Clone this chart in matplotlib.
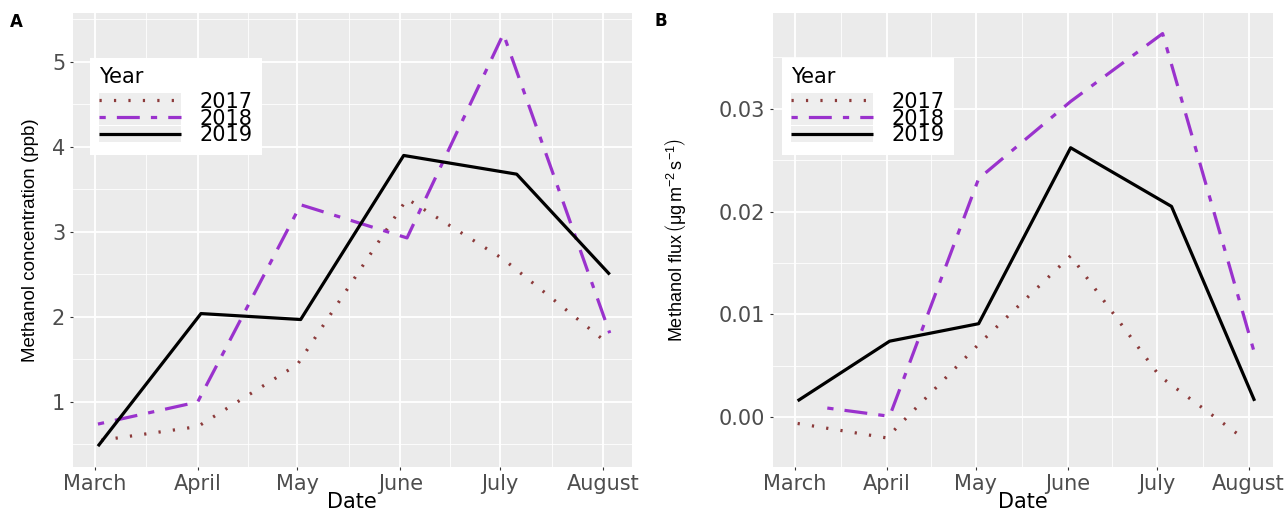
import matplotlib
matplotlib.use("Agg")
import matplotlib.pyplot as plt
import matplotlib.dates as mdates
import pandas as pd
from matplotlib.legend_handler import HandlerLine2D
from matplotlib.patches import Rectangle
from matplotlib.lines import Line2D
from matplotlib.ticker import FixedLocator

# ---------------- data ----------------
months = ["March", "April", "May", "June", "July", "August"]
month_starts = ["2019-03-01", "2019-04-01", "2019-05-01",
                "2019-06-01", "2019-07-01", "2019-08-01"]
years = ["2017", "2018", "2019"]

# Panel A: methanol concentration (ppb)
conc_dates_2017 = ["2019-03-03", "2019-04-01", "2019-05-01", "2019-06-03", "2019-07-02", "2019-08-03"]
conc_dates_2018 = ["2019-03-02", "2019-04-01", "2019-05-02", "2019-06-03", "2019-07-02", "2019-08-03"]
conc_dates_2019 = ["2019-03-02", "2019-04-02", "2019-05-02", "2019-06-02", "2019-07-06", "2019-08-03"]
conc_2017 = [0.55, 0.71, 1.44, 3.39, 2.68, 1.67]
conc_2018 = [0.74, 1.00, 3.32, 2.93, 5.33, 1.81]
conc_2019 = [0.48, 2.04, 1.97, 3.90, 3.68, 2.50]

# Panel B: methanol flux (ug m-2 s-1)
flux_dates_2017 = ["2019-03-02", "2019-04-01", "2019-05-02", "2019-06-02", "2019-07-02", "2019-07-31"]
flux_dates_2018 = ["2019-03-12", "2019-04-02", "2019-05-02", "2019-06-02", "2019-07-03", "2019-08-03"]
flux_dates_2019 = ["2019-03-02", "2019-04-02", "2019-05-02", "2019-06-02", "2019-07-06", "2019-08-03"]
flux_2017 = [-0.0006, -0.0020, 0.0071, 0.0157, 0.0040, -0.0022]
flux_2018 = [0.0009, 0.0001, 0.0232, 0.0307, 0.0373, 0.0062]
flux_2019 = [0.0016, 0.0074, 0.0091, 0.0262, 0.0205, 0.0016]

conc_yticks = [1, 2, 3, 4, 5]
conc_yminor = [0.5, 1.5, 2.5, 3.5, 4.5, 5.5]
flux_yticks = [0.00, 0.01, 0.02, 0.03]
flux_yticklabels = ["0.00", "0.01", "0.02", "0.03"]
flux_yminor = [0.005, 0.015, 0.025, 0.035]

# ---------------- style ----------------
plt.rcParams["font.family"] = ["DejaVu Sans"]
plt.rcParams["lines.scale_dashes"] = False
plt.rcParams["mathtext.fontset"] = "custom"
plt.rcParams["mathtext.rm"] = "Liberation Sans"
plt.rcParams["mathtext.it"] = "Liberation Sans:italic"

PANEL_BG = "#EBEBEB"
KEY_BG = "#EEEEEE"
styles = {
    "2017": dict(color="#8B3A3A", linestyle=(0, (1.6, 8.8)), lw=2.3),
    "2018": dict(color="#9A32CD", linestyle=(0, (4.5, 8.0, 16.5, 8.0)), lw=2.3),
    "2019": dict(color="black", linestyle="-", lw=2.3),
}


class KeyHandler(HandlerLine2D):
    def create_artists(self, legend, orig_handle, xdescent, ydescent,
                       width, height, fontsize, trans):
        bg = Rectangle((-xdescent, -ydescent), width, height,
                       facecolor=KEY_BG, edgecolor="none", transform=trans)
        arts = super().create_artists(legend, orig_handle, xdescent, ydescent,
                                      width, height, fontsize, trans)
        return [bg] + list(arts)


fig = plt.figure(figsize=(12.85, 5.08), dpi=100)
W, H = 1285.0, 508.0


def px_axes(l, t, r, b):
    return fig.add_axes([l / W, 1 - b / H, (r - l) / W, (b - t) / H])


axA = px_axes(72.7, 13, 632, 467)
axB = px_axes(773, 13, 1273, 467)

tick_dates = mdates.date2num(pd.to_datetime(month_starts))
mid_dates = [(tick_dates[i] + tick_dates[i + 1]) / 2 for i in range(len(tick_dates) - 1)]


def setup(ax, series, yticks, yticklabels, yminor, ylim, xlim_days, ylabel, ylabel_x, ylabel_size):
    ax.set_facecolor(PANEL_BG)
    handles = []
    for yr, (d, v) in zip(years, series):
        ln, = ax.plot(pd.to_datetime(d), v, label=yr, solid_capstyle="butt",
                      dash_capstyle="butt", **styles[yr])
        handles.append(ln)
    for s in ax.spines.values():
        s.set_visible(False)
    ax.set_xticks(tick_dates)
    ax.set_xticklabels(months)
    ax.xaxis.set_minor_locator(FixedLocator(mid_dates))
    ax.set_yticks(yticks)
    ax.set_yticklabels(yticklabels)
    ax.yaxis.set_minor_locator(FixedLocator(yminor))
    ax.set_xlim(tick_dates[0] + xlim_days[0], tick_dates[0] + xlim_days[1])
    ax.set_ylim(*ylim)
    ax.grid(which="major", color="white", lw=1.3)
    ax.grid(which="minor", color="white", lw=0.6)
    ax.set_axisbelow(True)
    ax.tick_params(which="major", length=2.4, width=0.8, color="#333333",
                   labelsize=15, labelcolor="#4D4D4D", pad=3)
    ax.tick_params(which="minor", length=0)
    ax.set_xlabel("Date", fontsize=15, color="black")
    ax.xaxis.set_label_coords(0.5, -0.056)
    ax.set_ylabel(ylabel, fontsize=ylabel_size, family="Liberation Sans", color="black")
    ax.yaxis.set_label_coords(ylabel_x, 0.5)
    return handles


hA = setup(axA, [(conc_dates_2017, conc_2017), (conc_dates_2018, conc_2018),
                 (conc_dates_2019, conc_2019)],
           conc_yticks, [str(t) for t in conc_yticks], conc_yminor,
           (0.235, 5.576), (-6.6, 161.7),
           "Methanol concentration (ppb)", -0.060, 13.5)
hB = setup(axB, [(flux_dates_2017, flux_2017), (flux_dates_2018, flux_2018),
                 (flux_dates_2019, flux_2019)],
           flux_yticks, flux_yticklabels, flux_yminor,
           (-0.00483, 0.0393), (-7.3, 161.2),
           r"Methanol flux$\,\left(\mathrm{μg\,m^{-2}\,s^{-1}}\right)$", -0.169, 13)

for ax, h, ax_x in ((axA, hA, 0.031), (axB, hB, 0.018)):
    leg = ax.legend(handles=h, labels=years, title="Year\n ", loc="upper left",
                    bbox_to_anchor=(ax_x, 0.901), borderaxespad=0,
                    fontsize=15, title_fontsize=15, alignment="left",
                    handlelength=3.9, handleheight=0.8, handletextpad=0.9,
                    labelspacing=-0.16, borderpad=0.45,
                    frameon=True, fancybox=False, framealpha=1,
                    facecolor="white", edgecolor="none",
                    handler_map={Line2D: KeyHandler()})
    leg.get_title().set_linespacing(0.25)

fig.text(10 / W, 1 - 22 / H, "A", fontsize=12, fontweight="bold", va="center", ha="left")
fig.text(655 / W, 1 - 21 / H, "B", fontsize=12, fontweight="bold", va="center", ha="left")

fig.savefig("out.png", dpi=100)
